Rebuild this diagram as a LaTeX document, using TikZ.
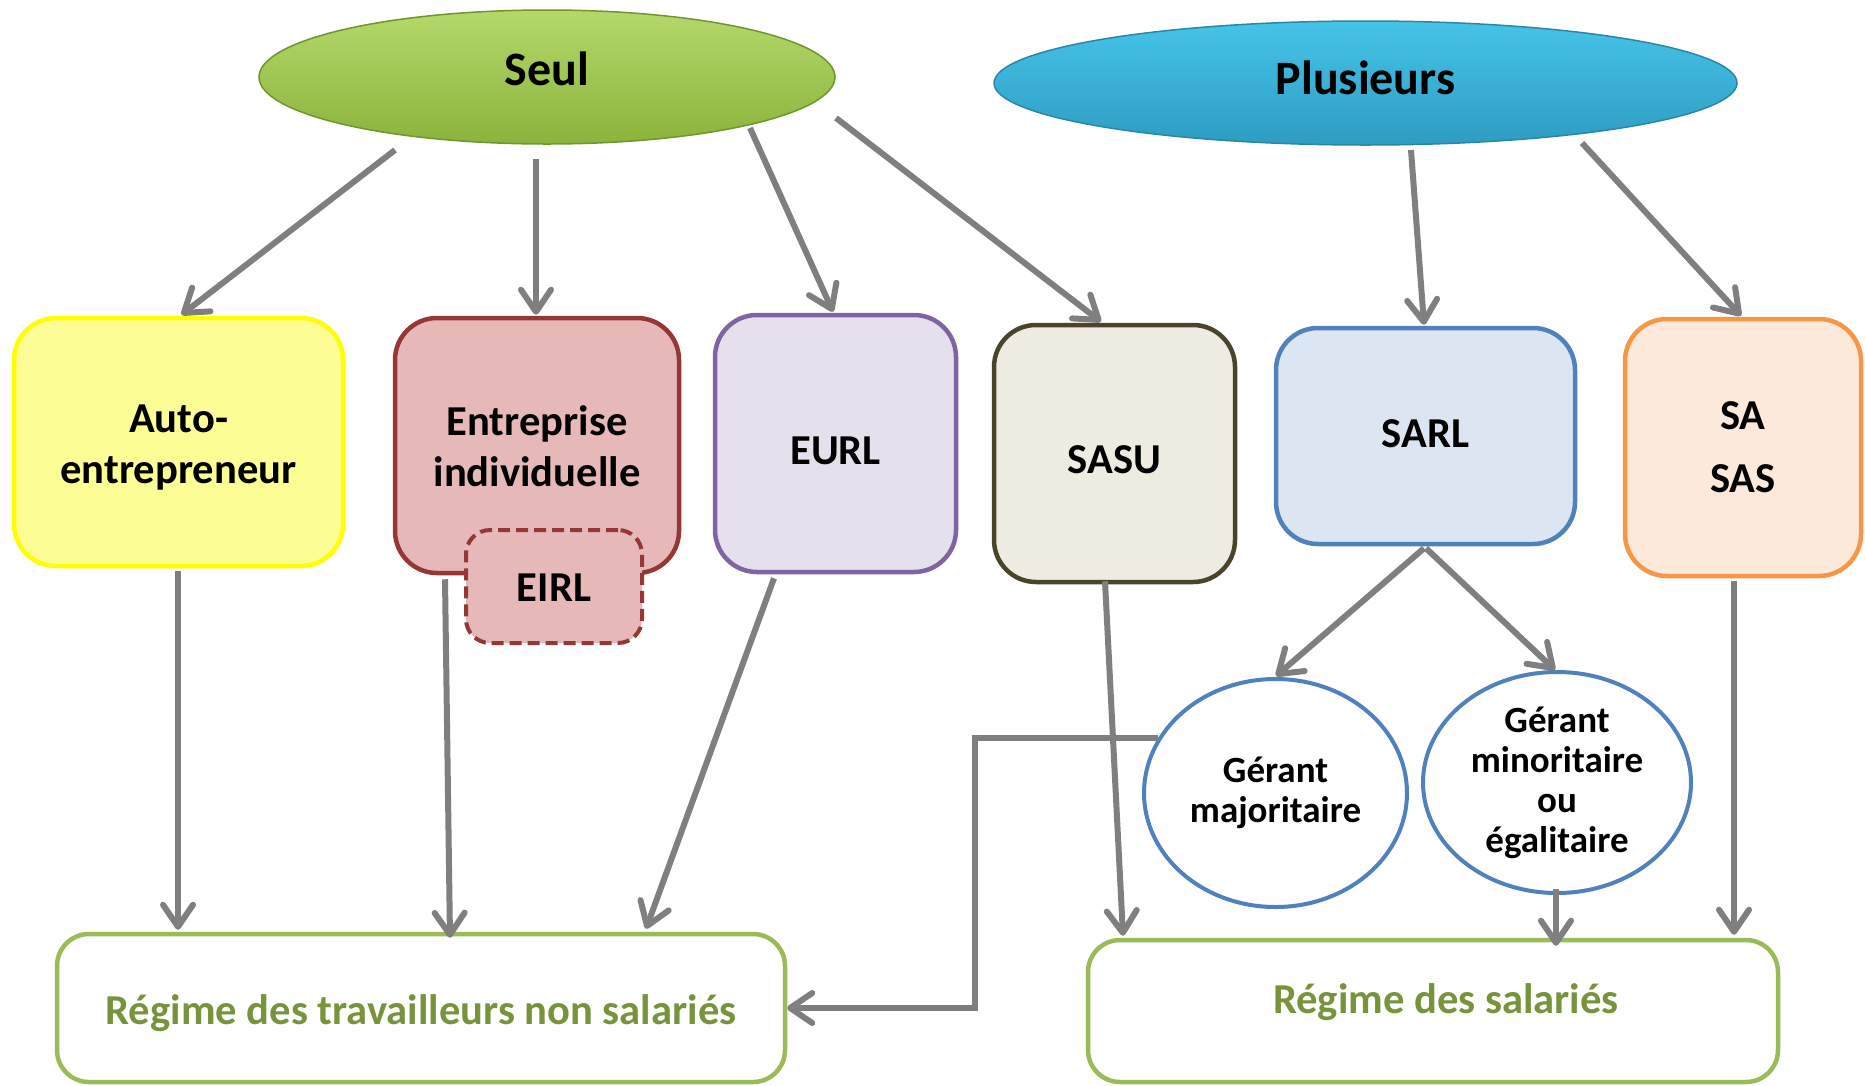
\documentclass[tikz,border=0pt]{standalone}
\usepackage{fontspec}
\setmainfont{Carlito}
\usetikzlibrary{arrows.meta,shapes.geometric,calc}
\definecolor{arrgray}{HTML}{7F7F7F}
\definecolor{autoF}{HTML}{FDFD96}
\definecolor{autoD}{HTML}{FFFF00}
\definecolor{eiF}{HTML}{E6B9B8}
\definecolor{eiD}{HTML}{953735}
\definecolor{eurlF}{HTML}{E5E0EC}
\definecolor{eurlD}{HTML}{8064A2}
\definecolor{sasuF}{HTML}{EEECE1}
\definecolor{sasuD}{HTML}{4A452A}
\definecolor{sarlF}{HTML}{DCE6F2}
\definecolor{blueD}{HTML}{4F81BD}
\definecolor{saF}{HTML}{FDE9D9}
\definecolor{saD}{HTML}{F79646}
\definecolor{regD}{HTML}{9BBB59}
\definecolor{regT}{HTML}{77933C}
\definecolor{seulT}{HTML}{B4D96A}
\definecolor{seulB}{HTML}{8AB43C}
\definecolor{seulE}{HTML}{6F952C}
\definecolor{plusT}{HTML}{45C4E8}
\definecolor{plusB}{HTML}{2F9CC2}
\definecolor{plusE}{HTML}{2A86A8}
\newcommand\mytitlefont{\bfseries\fontsize{48}{56}\selectfont}
\newcommand\myboxfont{\bfseries\fontsize{42.6}{51}\selectfont}
\newcommand\mycircfont{\bfseries\fontsize{37}{40}\selectfont}
\begin{document}
\begin{tikzpicture}[x=1pt,y=-1pt,
  box/.style={rectangle, rounded corners=42pt, line width=4.5pt, inner sep=0pt},
  lab/.style={inner sep=0pt, align=center, font=\myboxfont},
  regbox/.style={rectangle, rounded corners=32pt, line width=4.5pt, inner sep=0pt, draw=regD, fill=white},
  reglab/.style={lab, text=regT},
  circ/.style={ellipse, line width=4pt, inner sep=0pt, align=center, draw=blueD, fill=white, font=\mycircfont},
  oval/.style={ellipse, inner sep=0pt, line width=1.5pt},
  arr/.style={draw=arrgray, line width=6pt, -{Straight Barb[length=22pt,width=30pt,round]}}
]
\useasboundingbox (0,0) rectangle (1865,1085);

% ovals
\node[oval, top color=seulT, bottom color=seulB, draw=seulE, minimum width=576pt, minimum height=134pt] (seul) at (547,77) {};
\node[font=\mytitlefont] (seultxt) at ($(seul.center)+(0,-8)$) {Seul};
\node[oval, top color=plusT, bottom color=plusB, draw=plusE, minimum width=743pt, minimum height=124pt] (plus) at (1365.5,83) {};
\node[font=\mytitlefont] (plustxt) at ($(plus.center)+(0,-5)$) {Plusieurs};

% boxes
\node[box, fill=autoF, draw=autoD, minimum width=329pt, minimum height=248pt] (auto) at (178.5,442) {};
\node[lab] (autotxt) at ($(auto.center)+(0,6)$) {Auto-\\entrepreneur};
\node[box, fill=eiF, draw=eiD, minimum width=284pt, minimum height=255pt] (ei) at (537,445.5) {};
\node[lab] (eitxt) at ($(ei.center)+(0,1)$) {Entreprise\\individuelle};
\node[box, fill=eiF, draw=eiD, dash pattern=on 12pt off 6pt, rounded corners=24pt, line width=4pt, minimum width=176pt, minimum height=113pt] (eirl) at (554,586.5) {};
\node[lab] (eirltxt) at ($(eirl.center)+(0,1)$) {EIRL};
\node[box, fill=eurlF, draw=eurlD, minimum width=241pt, minimum height=257pt] (eurl) at (835.5,443.5) {};
\node[lab] (eurltxt) at ($(eurl.center)+(0,7)$) {EURL};
\node[box, fill=sasuF, draw=sasuD, minimum width=241pt, minimum height=257pt] (sasu) at (1114.5,453.5) {};
\node[lab] (sasutxt) at ($(sasu.center)+(0,6)$) {SASU};
\node[box, fill=sarlF, draw=blueD, minimum width=299pt, minimum height=216pt] (sarl) at (1425.5,436) {};
\node[lab] (sarltxt) at ($(sarl.center)+(0,-2)$) {SARL};
\node[box, fill=saF, draw=saD, minimum width=236pt, minimum height=257pt] (sa) at (1743,447.5) {};
\node[lab] (satxt) at (sa.center) {SA\\[12pt]SAS};

% circles
\node[circ, minimum width=263pt, minimum height=228pt] (gmaj) at (1275.5,793) {G\'erant\\majoritaire};
\node[circ, minimum width=268pt, minimum height=221pt] (gmin) at (1557,782.5) {G\'erant\\minoritaire\\ou\\\'egalitaire};

% regimes
\node[regbox, minimum width=728pt, minimum height=148pt] (rns) at (421,1008) {};
\node[reglab] (rnstxt) at ($(rns.center)+(0,5)$) {R\'egime des travailleurs non salari\'es};
\node[regbox, minimum width=690pt, minimum height=142pt] (rs) at (1433,1011) {};
\node[reglab] (rstxt) at ($(rs.center)+(13,-9)$) {R\'egime des salari\'es};

% connectors
\draw[arr] ($(seul.center)+(-152,73)$) -- ($(auto.north)+(3,-1)$);
\draw[arr] ($(seul.center)+(-11,82)$) -- ($(ei.north)+(-1,-1)$);
\draw[arr] ($(seul.center)+(203,51)$) -- ($(eurl.north)+(-2.5,-1)$);
\draw[arr] ($(seul.center)+(289,41)$) -- ($(sasu.north)+(-13.5,-1)$);
\draw[arr] ($(plus.center)+(45.5,67)$) -- ($(sarl.north)+(-1.5,-1)$);
\draw[arr] ($(plus.center)+(216.5,60)$) -- ($(sa.north)+(-2,-1)$);

\draw[arr] ($(auto.south)+(-0.5,3)$) -- ($(auto.south |- rns.north)+(-0.5,-2)$);
\draw[arr] ($(ei.south)+(-92,4)$) -- ($(rns.north)+(29,6)$);
\draw[arr] ($(eurl.south)+(-61.5,4)$) -- ($(rns.north)+(225,-3)$);
\draw[arr] ($(sasu.south)+(-9.5,-3)$) -- ($(rs.north)+(-310,-2)$);
\draw[arr] ($(sarl.south)+(-1.5,2)$) -- ($(gmaj.north)+(0.5,-1)$);
\draw[arr] ($(sarl.south)+(0.5,2)$) -- ($(gmin.north)+(-2,0)$);
\draw[arr] ($(gmin.south)+(-1,-6)$) -- ($(gmin.south |- rs.north)+(-1,8)$);
\draw[arr] ($(sa.south)+(-9,3)$) -- ($(sa.south |- rs.north)+(-9,-3)$);

\coordinate (elbow) at ($(rns.east)+(188,0)$);
\draw[arr] (gmaj.155) -| (elbow) -- (rns.east);
\end{tikzpicture}
\end{document}
